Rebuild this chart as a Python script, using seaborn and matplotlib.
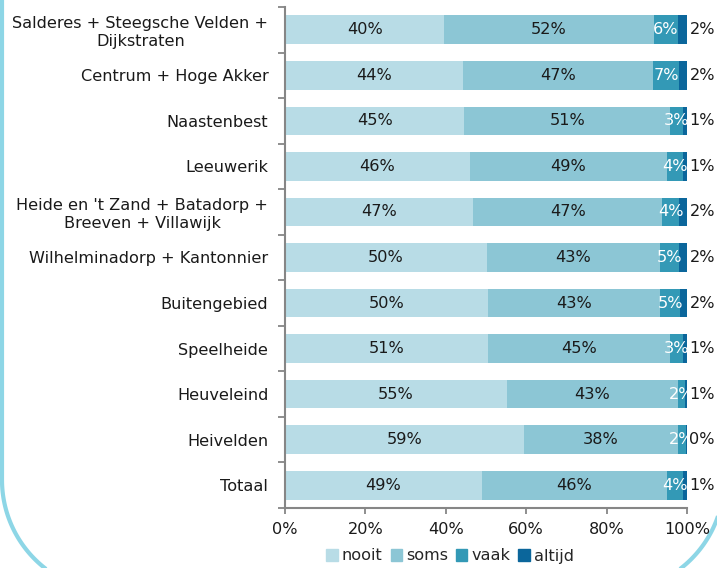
import matplotlib
matplotlib.use("Agg")
import matplotlib.pyplot as plt
import seaborn as sns
import pandas as pd
import numpy as np
from matplotlib.ticker import FixedLocator

categories = [
    "Salderes + Steegsche Velden +\nDijkstraten",
    "Centrum + Hoge Akker",
    "Naastenbest",
    "Leeuwerik",
    "Heide en 't Zand + Batadorp +\nBreeven + Villawijk",
    "Wilhelminadorp + Kantonnier",
    "Buitengebied",
    "Speelheide",
    "Heuveleind",
    "Heivelden",
    "Totaal",
]
series = ["nooit", "soms", "vaak", "altijd"]
nooit = [39.6, 44.4, 44.6, 45.9, 46.8, 50.2, 50.4, 50.6, 55.2, 59.4, 48.9]
soms = [52.2, 47.1, 51.2, 49.2, 47.1, 43.1, 43.0, 45.2, 42.6, 38.4, 46.2]
vaak = [6.0, 6.6, 3.1, 3.9, 4.2, 4.8, 4.8, 3.2, 1.6, 1.9, 4.0]
altijd = [2.2, 1.9, 1.1, 1.0, 1.9, 1.9, 1.8, 1.0, 0.6, 0.3, 0.9]
xticks = [0, 20, 40, 60, 80, 100]
colors = ["#b8dce6", "#8cc6d5", "#3399b6", "#0b669b"]

df = pd.DataFrame({"cat": categories, "nooit": nooit, "soms": soms,
                   "vaak": vaak, "altijd": altijd})
cum = df[series].cumsum(axis=1)

sns.set_theme(style="white")
plt.rcParams["font.family"] = ["DejaVu Sans"]
fs = 11.6

fig = plt.figure(figsize=(7.17, 5.68), dpi=100)

# decorative rounded frame, drawn in pixel units on a background axes
bg = fig.add_axes([0, 0, 1, 1], zorder=-1)
bg.set_xlim(0, 717)
bg.set_ylim(568, 0)
bg.axis("off")
r = 112
xl, xr, yb = 2, 724, 592
t1 = np.linspace(np.pi, np.pi / 2, 60)
t2 = np.linspace(np.pi / 2, 0, 60)
fx = np.concatenate([[xl], xl + r + r * np.cos(t1), xr - r + r * np.cos(t2), [xr]])
fy = np.concatenate([[-10], (yb - r) + r * np.sin(t1), (yb - r) + r * np.sin(t2), [-10]])
bg.plot(fx, fy, color="#8dd6e6", linewidth=3.0, clip_on=False,
        solid_capstyle="butt")

ax = fig.add_axes([285 / 717, 1 - 508 / 568, (687 - 285) / 717, (508 - 7) / 568])
ax.patch.set_alpha(0)

bar_h = 0.63
for s, c in zip(reversed(series), reversed(colors)):
    plot_df = pd.DataFrame({"cat": df["cat"], "val": cum[s]})
    sns.barplot(data=plot_df, x="val", y="cat", orient="h", color=c,
                width=bar_h, saturation=1, ax=ax, edgecolor="none", linewidth=0)

# labels
for i in range(len(categories)):
    left = 0
    for s in series:
        v = df.loc[i, s]
        txt = f"{v:.0f}%"
        if s in ("nooit", "soms"):
            ax.text(left + v / 2, i, txt, ha="center", va="center",
                    fontsize=fs, color="#1a1a1a")
        elif s == "vaak":
            ax.text(left + v / 2, i, txt, ha="center", va="center",
                    fontsize=fs, color="white")
        else:
            ax.text(100.6, i, txt, ha="left", va="center",
                    fontsize=fs, color="#1a1a1a", clip_on=False)
        left += v

ax.set_xlim(0, 100)
ax.set_ylim(len(categories) - 0.5, -0.5)
ax.set_xticks(xticks)
ax.set_xticklabels([f"{t}%" for t in xticks], fontsize=fs, color="#1a1a1a")
ax.set_yticks(range(len(categories)))
ax.set_yticklabels(categories, fontsize=fs, color="#1a1a1a")
for lbl in ax.get_yticklabels():
    lbl.set_multialignment("center")
ax.yaxis.set_minor_locator(FixedLocator(np.arange(-0.5, len(categories), 1.0)))
ax.tick_params(axis="y", which="major", length=0, pad=12)
ax.tick_params(axis="y", which="minor", length=5, width=1.3, color="#868686",
               direction="out", left=True)
ax.tick_params(axis="x", which="major", length=4, width=1.3, color="#868686",
               direction="out", bottom=True, pad=6)
ax.set_xlabel("")
ax.set_ylabel("")
for side in ["top", "right"]:
    ax.spines[side].set_visible(False)
for side in ["left", "bottom"]:
    ax.spines[side].set_color("#868686")
    ax.spines[side].set_linewidth(1.5)
ax.grid(False)

handles = [plt.Rectangle((0, 0), 1, 1, color=c) for c in colors]
fig.legend(handles, series, loc="center", bbox_to_anchor=(450 / 717, 1 - 556 / 568),
           ncol=4, frameon=False, fontsize=fs, handlelength=0.7, handleheight=0.7,
           handletextpad=0.25, columnspacing=0.5, borderaxespad=0)

fig.savefig("out.png", dpi=100)
